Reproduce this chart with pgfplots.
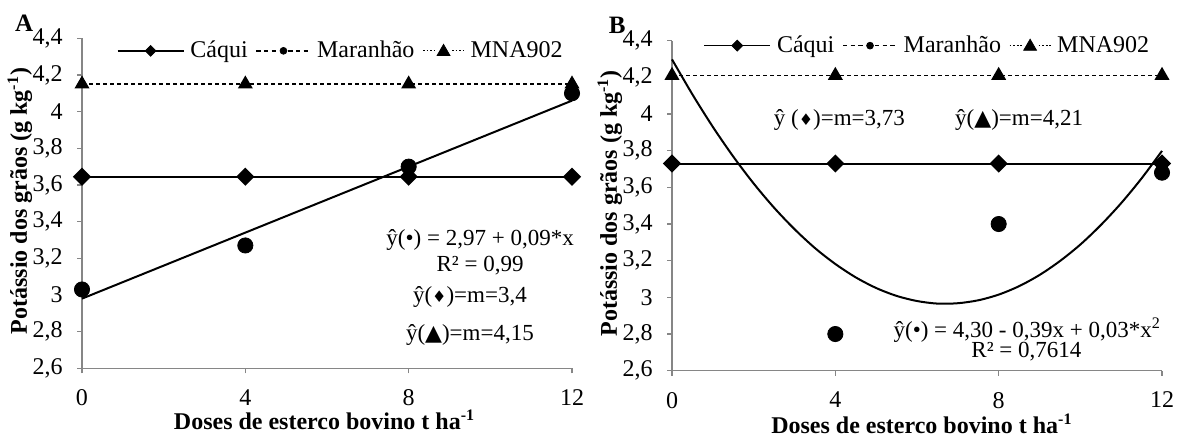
\documentclass[border=0pt]{standalone}
\usepackage{pgfplots}
\pgfplotsset{compat=1.18}
\usepackage{fontspec}
\setmainfont{Liberation Serif}
\newfontfamily\symfont{DejaVu Sans}
\definecolor{axgray}{HTML}{868686}
\newcommand\ann{\fontsize{11.5}{13}\selectfont}
\newcommand\dia{{\symfont\fontsize{8}{8}\selectfont ♦}}
\newcommand\tri{{\symfont\fontsize{11}{11}\selectfont ▲}}
\pgfplotsset{
  myaxis/.style={
    scale only axis, width=245pt, height=165pt,
    xmin=0, xmax=12, ymin=2.6, ymax=4.4,
    axis x line*=bottom, axis y line*=left,
    axis line style={-, axgray, line width=0.75pt},
    xtick={0,4,8,12}, ytick={2.6,2.8,3,3.2,3.4,3.6,3.8,4,4.2,4.4},
    tick align=outside, major tick length=2.5pt,
    tick style={axgray, line width=0.75pt},
    /pgf/number format/assume math mode=true,
    /pgf/number format/use comma,
    yticklabel style={/pgf/number format/fixed, /pgf/number format/precision=1, inner sep=0pt, anchor=east, xshift=-7pt},
    xticklabel style={inner sep=0pt, anchor=north, yshift=-8pt},
    tick label style={font=\fontsize{12}{14}\selectfont, black},
    label style={font=\fontsize{12}{14}\selectfont\bfseries, inner sep=0pt},
    clip=false,
    legend style={draw=none, fill=none, font=\fontsize{12}{14}\selectfont, anchor=center,
      /tikz/every odd column/.append style={column sep=3pt},
      /tikz/every even column/.append style={column sep=4pt},
      inner sep=0pt, nodes={inner sep=0pt}},
    legend columns=-1,
  },
  legcaqui/.style={legend image code/.code={
      \draw[black, line width=0.8pt] (0pt,0pt) -- (33pt,0pt);
      \draw[black] plot[only marks, mark=square*, mark size=1.9pt, mark options={rotate=45}] coordinates {(16.5pt,0pt)};}},
  legmara/.style={legend image code/.code={
      \draw[black, line width=0.7pt, dash pattern=on 2.2pt off 1.6pt] (0pt,0pt) -- (11pt,0pt);
      \draw[black, line width=0.7pt, dash pattern=on 2.2pt off 1.6pt] (16pt,0pt) -- (27pt,0pt);
      \draw[black] plot[only marks, mark=*, mark size=1.7pt] coordinates {(13.5pt,0pt)};}},
  legmna/.style={legend image code/.code={
      \draw[black, line width=0.6pt, dash pattern=on 0.9pt off 0.9pt] (0pt,0pt) -- (6pt,0pt);
      \draw[black, line width=0.6pt, dash pattern=on 0.9pt off 0.9pt] (14.5pt,0pt) -- (20.5pt,0pt);
      \draw[black] plot[only marks, mark=triangle*, mark size=3.7pt] coordinates {(10.25pt,-0.5pt)};}},
}
\begin{document}
\begin{tikzpicture}
\useasboundingbox (0,0) rectangle (589pt,218.5pt);
% ---------------- Panel A
\begin{axis}[myaxis, name=A, at={(41pt,34.35pt)}, anchor=south west,
  xlabel={Doses de esterco bovino t ha\textsuperscript{-1}},
  xlabel style={at={(axis description cs:0.495,-0.157)}, anchor=center},
  ylabel={Potássio dos grãos (g kg\textsuperscript{-1})},
  ylabel style={at={(axis description cs:-0.127,0.507)}, anchor=center},
  legend style={at={(axis description cs:0.526,0.962)}}]
\addlegendimage{legcaqui}\addlegendentry{Cáqui}
\addlegendimage{legmara}\addlegendentry{Maranhão}
\addlegendimage{legmna}\addlegendentry{MNA902}
\addplot[forget plot, black, line width=1pt, mark=square*, mark size=2.7pt, mark options={rotate=45, solid}]
  coordinates {(0,3.645)(4,3.645)(8,3.645)(12,3.645)};
\addplot[forget plot, black, line width=1pt] coordinates {(0,2.98)(12,4.06)};
\addplot[forget plot, only marks, black, mark=*, mark size=3.8pt]
  coordinates {(0,3.03)(4,3.27)(8,3.70)(12,4.10)};
\addplot[forget plot, black, line width=0.75pt, dash pattern=on 2pt off 1.5pt, mark=triangle*, mark size=3.6pt, mark options={solid}]
  coordinates {(0,4.15)(4,4.15)(8,4.15)(12,4.15)};
\node[font=\ann] at (axis cs:9.75,3.30) {ŷ(•) = 2,97 + 0,09*x};
\node[font=\ann] at (axis cs:9.75,3.16) {R² = 0,99};
\node[font=\ann] at (axis cs:9.5,2.99) {ŷ(\dia)=m=3,4};
\node[font=\ann] at (axis cs:9.5,2.78) {ŷ(\tri)=m=4,15};
\node[font=\fontsize{12.5}{14}\selectfont\bfseries] at (axis description cs:-0.118,1.047) {A};
\end{axis}
% ---------------- Panel B
\begin{axis}[myaxis, name=B, at={(336pt,33.15pt)}, anchor=south west,
  xlabel={Doses de esterco bovino t ha\textsuperscript{-1}},
  xlabel style={at={(axis description cs:0.51,-0.16)}, anchor=center},
  ylabel={Potássio dos grãos (g kg\textsuperscript{-1})},
  ylabel style={at={(axis description cs:-0.127,0.507)}, anchor=center},
  legend style={at={(axis description cs:0.519,0.985)}}]
\addlegendimage{legcaqui}\addlegendentry{Cáqui}
\addlegendimage{legmara}\addlegendentry{Maranhão}
\addlegendimage{legmna}\addlegendentry{MNA902}
\addplot[forget plot, black, line width=1pt, mark=square*, mark size=2.7pt, mark options={rotate=45, solid}]
  coordinates {(0,3.73)(4,3.73)(8,3.73)(12,3.73)};
\addplot[forget plot, black, line width=1pt, smooth] coordinates {
  (0,4.298)(0.5,4.107)(1,3.930)(1.5,3.768)(2,3.621)(2.5,3.489)(3,3.372)(3.5,3.269)
  (4,3.182)(4.5,3.109)(5,3.051)(5.5,3.008)(6,2.980)(6.5,2.966)(7,2.968)(7.5,2.984)
  (8,3.015)(8.5,3.061)(9,3.122)(9.5,3.198)(10,3.288)(10.5,3.394)(11,3.514)(11.5,3.649)(12,3.799)};
\addplot[forget plot, only marks, black, mark=*, mark size=3.8pt]
  coordinates {(4,2.80)(8,3.40)(12,3.68)};
\addplot[forget plot, black, line width=0.75pt, dash pattern=on 2pt off 1.5pt, mark=triangle*, mark size=3.6pt, mark options={solid}]
  coordinates {(0,4.21)(4,4.21)(8,4.21)(12,4.21)};
\node[font=\ann] at (axis cs:4.1,3.965) {ŷ (\dia)=m=3,73};
\node[font=\ann] at (axis cs:8.5,3.965) {ŷ(\tri)=m=4,21};
\node[font=\ann] at (axis cs:8.7,2.822) {ŷ(•) = 4,30 - 0,39x + 0,03*x\textsuperscript{2}};
\node[font=\ann] at (axis cs:8.68,2.703) {R² = 0,7614};
\node[font=\fontsize{12.5}{14}\selectfont\bfseries] at (axis description cs:-0.112,1.045) {B};
\end{axis}
\end{tikzpicture}
\end{document}
